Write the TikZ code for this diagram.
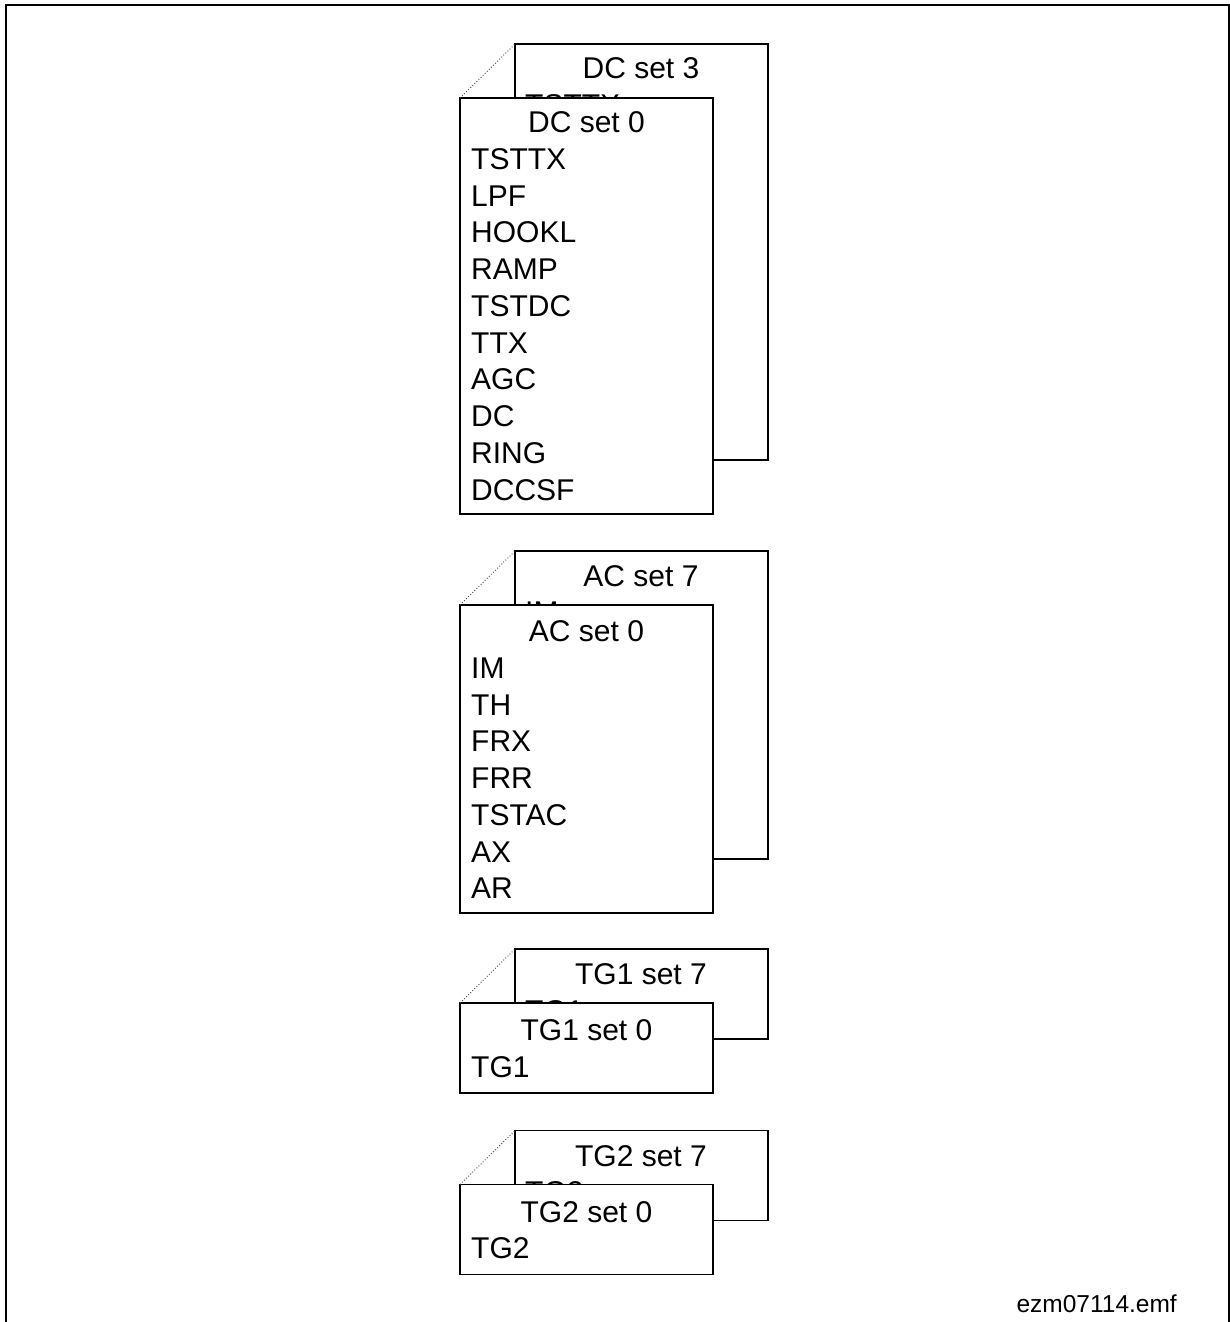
\documentclass[tikz,border=0pt]{standalone}
\usepackage{fontspec}
\setmainfont{Liberation Sans}
\newcommand{\stackset}[9]{%
  \node[box, minimum height=#3pt] (#1back) at (515,{#2-54}) {};
  \node[ttl] (#1backttl) at (641,{#2-54+#9}) {#5};
  \node[itm] (#1backitm) at (525,{#2-54+#9+36.75}) {#6};
  \node[box, minimum height=#3pt] (#1front) at (460,#2) {};
  \draw[fold] (#1front.north west) -- (#1back.north west);
  \node[ttl] (#1ttl) at (586.5,{#2+#4}) {#7};
  \foreach \t [count=\i] in {#8} {\node[itm] (#1i\i) at (471,{#2+#4+36.75*\i}) {\t};}
}
\begin{document}
\begin{tikzpicture}[x=1pt,y=-1pt,
  box/.style={draw, line width=1.8pt, fill=white, anchor=north west, minimum width=253pt, inner sep=0pt, outer sep=0pt},
  ttl/.style={anchor=base, inner sep=0pt, font=\fontsize{30}{36}\selectfont},
  itm/.style={anchor=base west, inner sep=0pt, font=\fontsize{30}{36}\selectfont},
  fold/.style={dotted, line width=0.9pt, black!75},
  frame/.style={line width=2pt}]
\useasboundingbox (0,0) rectangle (1230,1322);
\coordinate (fbl) at (5.5,1322);
\coordinate (ftl) at (5.5,5);
\coordinate (ftr) at (1229,5);
\coordinate (fbr) at (1229,1322);
\draw[frame] (fbl) -- (ftl) -- (ftr) -- (fbr);
\stackset{dc}{98}{416}{34.5}{DC set 3}{TSTTX}{DC set 0}{TSTTX,LPF,HOOKL,RAMP,TSTDC,TTX,AGC,DC,RING,DCCSF}{34.5}
\stackset{ac}{605}{308}{36.5}{AC set 7}{IM}{AC set 0}{IM,TH,FRX,FRR,TSTAC,AX,AR}{35}
\stackset{tga}{1003}{90}{37.5}{TG1 set 7}{TG1}{TG1 set 0}{TG1}{35.5}
\stackset{tgb}{1184.5}{90}{37.5}{TG2 set 7}{TG2}{TG2 set 0}{TG2}{35.5}
\node[anchor=base east, inner sep=0pt, font=\fontsize{24.5}{29}\selectfont] (fname) at (1177,1312) {ezm07114.emf};
\end{tikzpicture}
\end{document}
